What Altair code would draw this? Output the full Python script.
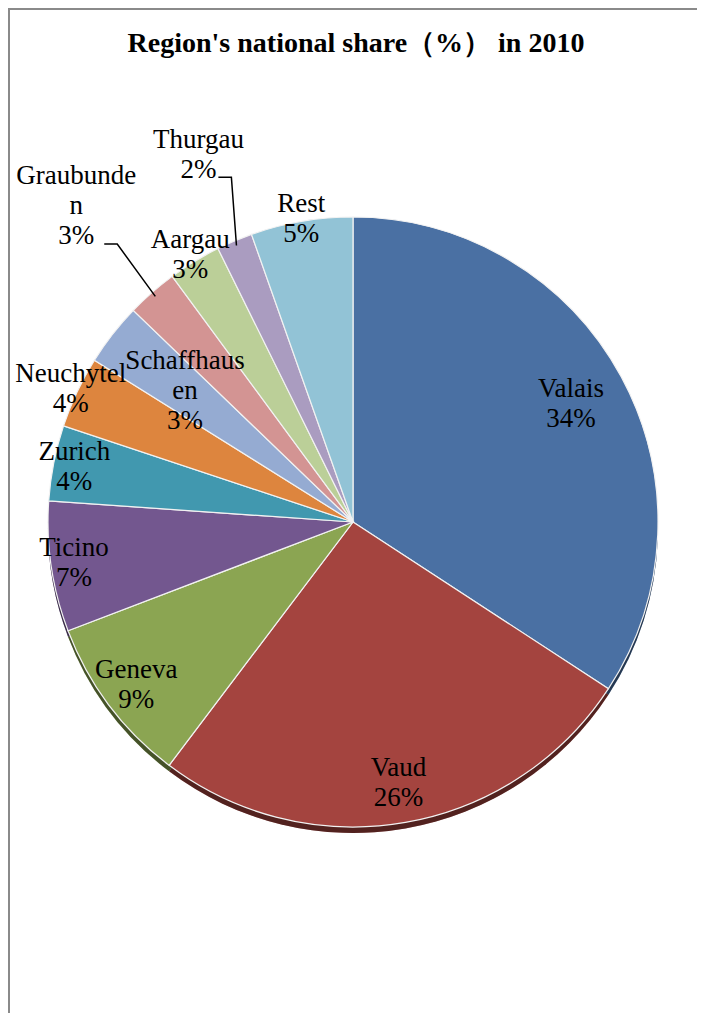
import math
import altair as alt
import pandas as pd

# ---------------- data ----------------
regions = ["Valais", "Vaud", "Geneva", "Ticino", "Zurich", "Neuchytel",
           "Schaffhausen", "Graubunden", "Aargau", "Thurgau", "Rest"]
shares = [34.2, 26.1, 8.9, 6.9, 4.0, 3.8, 3.3, 2.7, 2.8, 1.9, 5.4]
label_names = ["Valais", "Vaud", "Geneva", "Ticino", "Zurich", "Neuchytel",
               "Schaffhaus\nen", "Graubunde\nn", "Aargau", "Thurgau", "Rest"]
colors = ["#4A70A3", "#A4443F", "#8BA552", "#73578F", "#4198AF", "#DD853E",
          "#95ABD2", "#D39493", "#BBCF98", "#AA9CC0", "#92C3D6"]
TITLE = "Region's national share（%） in 2010"

# ---------------- layout ----------------
W, H = 689, 1005
CX, CY = 345, 514
R = 305
FONT = "Liberation Serif"
FS, LH = 27, 30
label_radius = {"Valais": 248, "Vaud": 265, "Geneva": 271, "Ticino": 282,
                "Zurich": 284, "Neuchytel": 312, "Schaffhausen": 213,
                "Graubunden": 420, "Aargau": 313, "Thurgau": 398, "Rest": 307}
# leader line knees, relative to label centre
leaders = {"Graubunden": [(28, 38), (41, 38)], "Thurgau": [(20, 22), (33, 22)]}
LEADER_EDGE = 300

total = sum(shares)
df = pd.DataFrame({
    "region": regions,
    "share": shares,
    "order": list(range(len(regions))),
    "label": [f"{n}\n{round(v)}%" for n, v in zip(label_names, shares)],
    "nlines": [n.count("\n") + 2 for n in label_names],
    "lr": [label_radius[r] for r in regions],
})

# leader lines derived from slice mid angles
rows = []
cum = 0.0
for r, v in zip(regions, shares):
    mid = (cum + v / 2) / total * 2 * math.pi
    cum += v
    if r in leaders:
        lx = CX + label_radius[r] * math.sin(mid)
        ly = CY - label_radius[r] * math.cos(mid)
        pts = [(lx + a, ly + b) for a, b in leaders[r]]
        pts.append((CX + LEADER_EDGE * math.sin(mid), CY - LEADER_EDGE * math.cos(mid)))
        for i, (x, y) in enumerate(pts):
            rows.append({"region": r, "i": i, "x": x, "y": y})
lead_df = pd.DataFrame(rows)

color_scale = alt.Scale(domain=regions, range=colors)
theta = alt.Theta("share:Q", stack=True)
order = alt.Order("order:Q", sort="ascending")

base = alt.Chart(df)

shadow = base.mark_arc(outerRadius=R).encode(
    theta=theta, order=order,
    color=alt.Color("region:N", scale=color_scale, legend=None),
    x=alt.value(CX), y=alt.value(CY + 6),
)
shadow_dark = base.mark_arc(outerRadius=R, color="black", opacity=0.5).encode(
    theta=theta, order=order,
    x=alt.value(CX), y=alt.value(CY + 6),
)
pie = base.mark_arc(outerRadius=R, stroke="#f2f2f2", strokeWidth=1.2).encode(
    theta=theta, order=order,
    color=alt.Color("region:N", scale=color_scale, legend=None),
    x=alt.value(CX), y=alt.value(CY),
)

label_base = base.transform_window(
    cum="sum(share)", sort=[alt.SortField("order", order="ascending")],
    frame=[None, 0],
).transform_calculate(
    mid="datum.cum - datum.share / 2"
)


def label_layer(n):
    return label_base.transform_filter(alt.datum.nlines == n).mark_text(
        font=FONT, fontSize=FS, lineBreak="\n", lineHeight=LH,
        align="center", baseline="middle", color="black",
        dy=-(n - 1) * LH / 2,
    ).encode(
        theta=alt.Theta("mid:Q", stack=None),
        radius=alt.Radius("lr:Q", scale=None),
        text="label:N",
        x=alt.value(CX), y=alt.value(CY),
    )


labels2 = label_layer(2)
labels3 = label_layer(3)

lead = alt.Chart(lead_df).mark_line(color="black", strokeWidth=1.5).encode(
    x=alt.X("x:Q", scale=None, axis=None),
    y=alt.Y("y:Q", scale=None, axis=None),
    detail="region:N",
    order="i:Q",
)
title = alt.Chart(pd.DataFrame({"t": [TITLE]})).mark_text(
    font=FONT, fontSize=28, fontWeight="bold", align="center",
    baseline="alphabetic", color="black").encode(
    text="t:N", x=alt.value(348), y=alt.value(44))

frame = pd.DataFrame({"k": [0]})
top_border = alt.Chart(frame).mark_rule(color="#8a8a8a", strokeWidth=2).encode(
    x=alt.value(0), x2=alt.value(W), y=alt.value(1))
left_border = alt.Chart(frame).mark_rule(color="#8a8a8a", strokeWidth=2).encode(
    x=alt.value(1), y=alt.value(0), y2=alt.value(H))

chart = alt.layer(
    shadow, shadow_dark, pie, labels2, labels3, lead, title, top_border, left_border
).properties(
    width=W, height=H, padding=0, autosize="none", background="white"
).configure_view(stroke=None)

chart.save("out.html", embed_options={"renderer": "svg", "actions": False})
